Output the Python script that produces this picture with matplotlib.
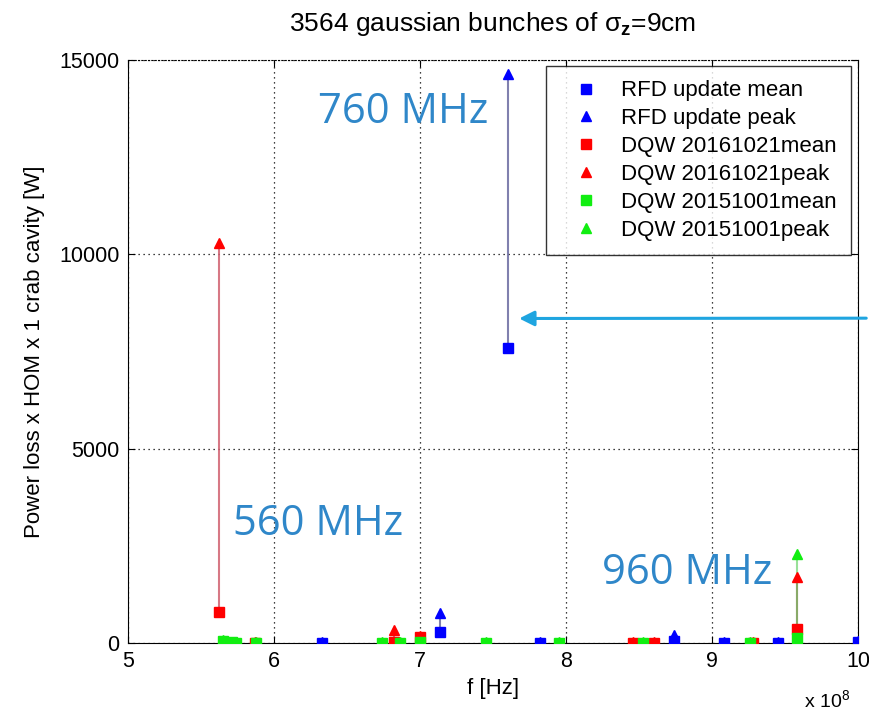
import matplotlib
matplotlib.use("Agg")
import matplotlib.pyplot as plt
from matplotlib.ticker import FuncFormatter

plt.rcParams["font.family"] = ["Liberation Sans", "DejaVu Sans"]
plt.rcParams["mathtext.fontset"] = "custom"
plt.rcParams["mathtext.rm"] = "Liberation Sans"
plt.rcParams["mathtext.it"] = "Liberation Sans:italic"
plt.rcParams["mathtext.bf"] = "Liberation Sans:bold"

# HOM modes: frequency [Hz], mean and peak power loss [W]
rfd_f = [6.33e8, 7.14e8, 7.60e8, 7.82e8, 8.74e8, 9.08e8, 9.45e8, 10.0e8]
rfd_mean = [10, 280, 7580, 10, 60, 10, 10, 30]
rfd_peak = [15, 770, 14650, 15, 200, 15, 15, 40]

dqw16_f = [5.62e8, 5.67e8, 5.87e8, 6.82e8, 7.00e8, 8.46e8, 8.60e8, 9.28e8, 9.58e8]
dqw16_mean = [800, 10, 10, 20, 150, 10, 10, 10, 360]
dqw16_peak = [10300, 15, 15, 330, 170, 15, 15, 15, 1700]

dqw15_f = [5.65e8, 5.71e8, 5.74e8, 5.88e8, 6.74e8, 6.86e8, 7.00e8, 7.45e8,
           7.95e8, 8.53e8, 9.26e8, 9.58e8]
dqw15_mean = [60, 20, 10, 10, 10, 10, 20, 10, 10, 10, 10, 130]
dqw15_peak = [80, 25, 15, 15, 15, 15, 25, 15, 15, 15, 15, 2300]

labels = ["RFD update mean", "RFD update peak",
          "DQW 20161021mean", "DQW 20161021peak",
          "DQW 20151001mean", "DQW 20151001peak"]

fig = plt.figure(figsize=(8.69, 7.11), dpi=100)
ax = fig.add_axes([0.1473, 0.0956, 0.840, 0.820])

series = [
    (rfd_f, rfd_mean, rfd_peak, "#0000ff", "#6a6aa0", 0.85),
    (dqw16_f, dqw16_mean, dqw16_peak, "#ff0000", "#d06070", 0.85),
    (dqw15_f, dqw15_mean, dqw15_peak, "#11ee11", "#55cc55", 0.6),
]

handles = []
for f, mean, peak, c, lc, a in series:
    ax.vlines(f, mean, peak, colors=lc, linewidth=1.5, alpha=a, zorder=2)
    h1, = ax.plot(f, mean, "s", color=c, markersize=7.5, linestyle="none", zorder=3)
    h2, = ax.plot(f, peak, "^", color=c, markersize=7, linestyle="none", zorder=3)
    handles += [h1, h2]

ax.set_xlim(5e8, 10e8)
ax.set_ylim(0, 15000)
ax.set_xticks([5e8, 6e8, 7e8, 8e8, 9e8, 10e8])
ax.set_yticks([0, 5000, 10000, 15000])
ax.xaxis.set_major_formatter(FuncFormatter(lambda v, p: f"{v / 1e8:g}"))
ax.tick_params(direction="in", length=5, labelsize=15.5, top=True, right=True, pad=6)
ax.grid(True, color="black", linestyle=(0, (1, 3)), linewidth=0.9)
ax.spines["top"].set_linestyle((0, (1, 2)))

ax.set_xlabel("f [Hz]", fontsize=16, labelpad=4)
ax.set_ylabel("Power loss x HOM x 1 crab cavity [W]", fontsize=16, labelpad=10)
ax.set_title(r"3564 gaussian bunches of σ$_\mathbf{z}$=9cm", fontsize=19, pad=21)
ax.text(0.989, -0.11, r"x 10$^{8}$", transform=ax.transAxes, fontsize=14,
        ha="right", va="baseline")

leg = ax.legend(handles, labels, loc="upper right", bbox_to_anchor=(0.99, 0.99),
                fontsize=16, frameon=True, fancybox=False, edgecolor="black",
                borderpad=0.65, labelspacing=0.31, handlelength=2.3,
                handletextpad=0.4, borderaxespad=0.0)
leg.get_frame().set_linewidth(1.0)

# mode labels and arrow
ann_color = "#2f87c9"
ax.text(6.30e8, 13390, "760 MHz", fontsize=30, color=ann_color,
        family="Open Sans", ha="left", va="baseline")
ax.text(5.72e8, 2775, "560 MHz", fontsize=30, color=ann_color,
        family="Open Sans", ha="left", va="baseline")
ax.text(8.25e8, 1515, "960 MHz", fontsize=30, color=ann_color,
        family="Open Sans", ha="left", va="baseline")
ax.annotate("", xy=(7.66e8, 8350), xycoords="data",
            xytext=(1.0, 0.5525), textcoords="figure fraction",
            arrowprops=dict(arrowstyle="-|>,head_length=0.9,head_width=0.45",
                            color="#1fa5e0", linewidth=2.2),
            annotation_clip=False)

fig.savefig("out.png", dpi=100)
